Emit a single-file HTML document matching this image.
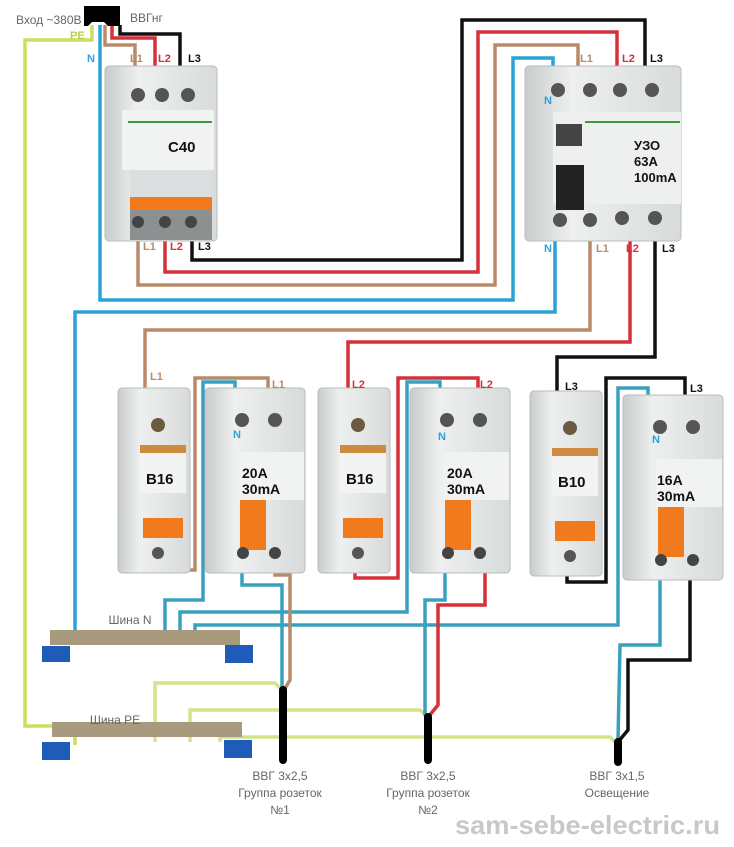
<!DOCTYPE html>
<html><head><meta charset="utf-8"><style>
body{margin:0;background:#fff;width:734px;height:847px;overflow:hidden}
svg{display:block}
text{font-family:"Liberation Sans",sans-serif}
</style></head><body>
<svg width="734" height="847" viewBox="0 0 734 847" xmlns="http://www.w3.org/2000/svg">
<defs>
<linearGradient id="g" x1="0" x2="1"><stop offset="0" stop-color="#c9cccc"/><stop offset="0.3" stop-color="#eef0f0"/><stop offset="1" stop-color="#d8dbdb"/></linearGradient>
</defs>
<g fill="none" stroke-width="3.5" stroke-linejoin="miter">
<polyline stroke="#c9e05c" points="92,25 92,40 25,40 25,726 75,726 75,745"/>
<polyline stroke="#d3e38a" points="155,742 155,683 275,683 282,690"/>
<polyline stroke="#d3e38a" points="190,742 190,710 420,710 427,716"/>
<polyline stroke="#d3e38a" points="220,742 220,737 610,737 615,742"/>
<polyline stroke="#2aa4d8" points="100,25 100,300 513,300 513,58 553,58 553,75"/>
<polyline stroke="#2aa4d8" points="555,238 555,312 75,312 75,636"/>
<polyline stroke="#3aa0c0" points="165,636 165,600 203,600 203,382 235,382 235,398"/>
<polyline stroke="#3aa0c0" points="242,560 242,585 282,585 282,688"/>
<polyline stroke="#3aa0c0" points="180,636 180,612 407,612 407,382 440,382 440,398"/>
<polyline stroke="#3aa0c0" points="445,560 445,600 425,600 425,716"/>
<polyline stroke="#3aa0c0" points="195,636 195,625 618,625 618,388 648,388 648,400"/>
<polyline stroke="#3aa0c0" points="660,560 660,645 620,645 618,740"/>
<polyline stroke="#b98a68" points="105,25 105,45 135,45 135,68"/>
<polyline stroke="#b98a68" points="138,238 138,285 495,285 495,45 578,45 578,70"/>
<polyline stroke="#b98a68" points="590,238 590,330 145,330 145,392"/>
<polyline stroke="#b98a68" points="155,565 155,570 195,570 195,378 268,378 268,395"/>
<polyline stroke="#b98a68" points="275,560 275,575 290,575 290,680 284,690"/>
<polyline stroke="#d6303a" points="112,25 112,38 155,38 155,68"/>
<polyline stroke="#d6303a" points="165,238 165,272 478,272 478,32 617,32 617,70"/>
<polyline stroke="#d6303a" points="630,238 630,342 348,342 348,395"/>
<polyline stroke="#d6303a" points="355,565 355,578 398,578 398,378 478,378 478,395"/>
<polyline stroke="#d6303a" points="485,560 485,605 438,605 438,705 429,716"/>
<polyline stroke="#111" points="120,25 120,34 180,34 180,68"/>
<polyline stroke="#111" points="192,238 192,260 462,260 462,20 645,20 645,70"/>
<polyline stroke="#111" points="655,238 655,357 557,357 557,400"/>
<polyline stroke="#111" points="567,570 567,582 606,582 606,378 685,378 685,400"/>
<polyline stroke="#111" points="690,560 690,660 628,660 628,730 618,742"/>
</g>
<g stroke="#000" stroke-width="8" stroke-linecap="round">
<line x1="283" y1="690" x2="283" y2="760"/><line x1="428" y1="717" x2="428" y2="760"/><line x1="618" y1="742" x2="618" y2="762"/>
</g>
<path d="M84,6 H120 V26 H108 L104,22 H92 L88,26 H84Z" fill="#000"/>
<g>
<rect x="105" y="66" width="112" height="175" rx="4" fill="url(#g)" stroke="#bbb"/>
<rect x="122" y="110" width="92" height="60" fill="#f1f2f2"/>
<line x1="128" y1="122" x2="212" y2="122" stroke="#3a9a3a" stroke-width="2"/>
<rect x="130" y="170" width="82" height="30" fill="#dcdfdf"/>
<rect x="130" y="197" width="82" height="13" fill="#f07a1c"/>
<rect x="130" y="210" width="82" height="30" fill="#8c9090"/>
<circle cx="138" cy="95" r="7" fill="#555"/><circle cx="162" cy="95" r="7" fill="#555"/><circle cx="188" cy="95" r="7" fill="#555"/>
<circle cx="138" cy="222" r="6" fill="#444"/><circle cx="165" cy="222" r="6" fill="#444"/><circle cx="191" cy="222" r="6" fill="#444"/>
<text x="168" y="152" font-size="15" font-weight="bold" fill="#111">C40</text>
</g>
<g>
<rect x="525" y="66" width="156" height="175" rx="4" fill="url(#g)" stroke="#bbb"/>
<rect x="553" y="112" width="128" height="92" fill="#eef0f0"/>
<line x1="585" y1="122" x2="680" y2="122" stroke="#3a9a3a" stroke-width="2"/>
<rect x="556" y="124" width="26" height="22" fill="#444"/>
<rect x="556" y="165" width="28" height="45" fill="#222"/>
<circle cx="558" cy="90" r="7" fill="#555"/><circle cx="590" cy="90" r="7" fill="#555"/><circle cx="620" cy="90" r="7" fill="#555"/><circle cx="652" cy="90" r="7" fill="#555"/>
<circle cx="560" cy="220" r="7" fill="#555"/><circle cx="590" cy="220" r="7" fill="#555"/><circle cx="622" cy="218" r="7" fill="#555"/><circle cx="655" cy="218" r="7" fill="#555"/>
<text x="634" y="150" font-size="13" font-weight="bold" fill="#111">УЗО</text>
<text x="634" y="166" font-size="13" font-weight="bold" fill="#111">63A</text>
<text x="634" y="182" font-size="13" font-weight="bold" fill="#111">100mA</text>
</g>
<g id="b">
<rect x="118" y="388" width="72" height="185" rx="4" fill="url(#g)" stroke="#bbb"/>
<circle cx="158" cy="425" r="7" fill="#6a5a40"/>
<rect x="140" y="445" width="46" height="8" fill="#d08a40"/>
<rect x="140" y="453" width="46" height="40" fill="#f2f3f3"/>
<rect x="143" y="518" width="40" height="20" fill="#f07a1c"/>
<circle cx="158" cy="553" r="6" fill="#555"/>
</g>
<text x="146" y="484" font-size="15" font-weight="bold" fill="#111">B16</text>
<use href="#b" x="200" y="0"/>
<text x="346" y="484" font-size="15" font-weight="bold" fill="#111">B16</text>
<use href="#b" x="412" y="3"/>
<text x="558" y="487" font-size="15" font-weight="bold" fill="#111">B10</text>
<g id="r">
<rect x="205" y="388" width="100" height="185" rx="4" fill="url(#g)" stroke="#bbb"/>
<circle cx="242" cy="420" r="7" fill="#555"/><circle cx="275" cy="420" r="7" fill="#555"/>
<rect x="238" y="452" width="66" height="48" fill="#f1f2f2"/>
<rect x="240" y="500" width="26" height="50" fill="#f07a1c"/>
<circle cx="243" cy="553" r="6" fill="#444"/><circle cx="275" cy="553" r="6" fill="#444"/>
</g>
<text x="242" y="478" font-size="14" font-weight="bold" fill="#111">20A</text>
<text x="242" y="494" font-size="14" font-weight="bold" fill="#111">30mA</text>
<use href="#r" x="205" y="0"/>
<text x="447" y="478" font-size="14" font-weight="bold" fill="#111">20A</text>
<text x="447" y="494" font-size="14" font-weight="bold" fill="#111">30mA</text>
<use href="#r" x="418" y="7"/>
<text x="657" y="485" font-size="14" font-weight="bold" fill="#111">16A</text>
<text x="657" y="501" font-size="14" font-weight="bold" fill="#111">30mA</text>
<g>
<rect x="50" y="630" width="190" height="15" fill="#a89a7c"/>
<path d="M42,646 h28 v16 h-28z M225,645 h28 v18 h-28z" fill="#1f5bb8"/>
<rect x="52" y="722" width="190" height="15" fill="#a89a7c"/>
<path d="M42,742 h28 v18 h-28z M224,740 h28 v18 h-28z" fill="#1f5bb8"/>
</g>
<g font-size="11" font-weight="bold">
<text x="16" y="24" fill="#666" font-size="12" font-weight="normal">Вход ~380В</text>
<text x="130" y="22" fill="#666" font-size="12" font-weight="normal">ВВГнг</text>
<text x="70" y="39" fill="#b8d040">PE</text>
<text x="87" y="62" fill="#2aa4d8">N</text>
<text x="130" y="62" fill="#b98a68">L1</text><text x="158" y="62" fill="#d6303a">L2</text><text x="188" y="62" fill="#111">L3</text>
<text x="143" y="250" fill="#b98a68">L1</text><text x="170" y="250" fill="#d6303a">L2</text><text x="198" y="250" fill="#111">L3</text>
<text x="580" y="62" fill="#b98a68">L1</text><text x="622" y="62" fill="#d6303a">L2</text><text x="650" y="62" fill="#111">L3</text>
<text x="544" y="104" fill="#2aa4d8">N</text>
<text x="544" y="252" fill="#2aa4d8">N</text><text x="596" y="252" fill="#b98a68">L1</text><text x="626" y="252" fill="#d6303a">L2</text><text x="662" y="252" fill="#111">L3</text>
<text x="150" y="380" fill="#b98a68">L1</text><text x="272" y="388" fill="#b98a68">L1</text>
<text x="352" y="388" fill="#d6303a">L2</text><text x="480" y="388" fill="#d6303a">L2</text>
<text x="565" y="390" fill="#111">L3</text><text x="690" y="392" fill="#111">L3</text>
<text x="233" y="438" fill="#2aa4d8">N</text><text x="438" y="440" fill="#2aa4d8">N</text><text x="652" y="443" fill="#2aa4d8">N</text>
</g>
<g font-size="12" fill="#666" text-anchor="middle">
<text x="130" y="624">Шина N</text>
<text x="115" y="724">Шина PE</text>
<text x="280" y="780">ВВГ 3х2,5</text><text x="280" y="797">Группа розеток</text><text x="280" y="814">№1</text>
<text x="428" y="780">ВВГ 3х2,5</text><text x="428" y="797">Группа розеток</text><text x="428" y="814">№2</text>
<text x="617" y="780">ВВГ 3х1,5</text><text x="617" y="797">Освещение</text>
</g>
<text x="455" y="834" font-size="26" font-weight="bold" fill="#c8c8c8" textLength="265" lengthAdjust="spacingAndGlyphs">sam-sebe-electric.ru</text>
</svg>
</body></html>
